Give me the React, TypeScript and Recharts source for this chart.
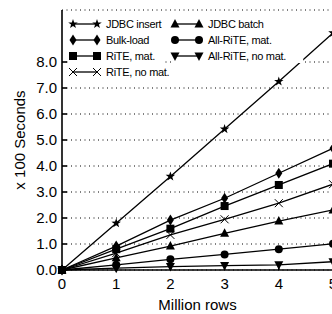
import React from 'react';
import { LineChart, Line, XAxis, YAxis, CartesianGrid, Legend } from 'recharts';

const rows = [0, 1, 2, 3, 4, 5];
const jdbcInsert = [0, 1.8, 3.6, 5.42, 7.25, 9.12];
const bulkLoad = [0, 0.92, 1.92, 2.76, 3.72, 4.68];
const riteMat = [0, 0.8, 1.59, 2.46, 3.27, 4.09];
const riteNoMat = [0, 0.65, 1.35, 1.95, 2.57, 3.3];
const jdbcBatch = [0, 0.47, 0.92, 1.41, 1.88, 2.31];
const allRiteMat = [0, 0.2, 0.41, 0.6, 0.8, 1.01];
const allRiteNoMat = [0, 0.07, 0.13, 0.17, 0.2, 0.32];

const xTicks = [0, 1, 2, 3, 4, 5];
const yTicks = [0, 1, 2, 3, 4, 5, 6, 7, 8];

type Shape = 'star' | 'diamond' | 'square' | 'cross' | 'triUp' | 'circle' | 'triDown';

const series: { key: string; name: string; values: number[]; shape: Shape }[] = [
  { key: 'jdbcInsert', name: 'JDBC insert', values: jdbcInsert, shape: 'star' },
  { key: 'bulkLoad', name: 'Bulk-load', values: bulkLoad, shape: 'diamond' },
  { key: 'riteMat', name: 'RiTE, mat.', values: riteMat, shape: 'square' },
  { key: 'riteNoMat', name: 'RiTE, no mat.', values: riteNoMat, shape: 'cross' },
  { key: 'jdbcBatch', name: 'JDBC batch', values: jdbcBatch, shape: 'triUp' },
  { key: 'allRiteMat', name: 'All-RiTE, mat.', values: allRiteMat, shape: 'circle' },
  { key: 'allRiteNoMat', name: 'All-RiTE, no mat.', values: allRiteNoMat, shape: 'triDown' },
];

const data = rows.map((r, i) => {
  const o: Record<string, number> = { x: r };
  series.forEach((s) => {
    o[s.key] = s.values[i];
  });
  return o;
});

function marker(shape: Shape, cx: number, cy: number, k?: string | number) {
  switch (shape) {
    case 'star': {
      const pts: string[] = [];
      for (let i = 0; i < 10; i++) {
        const r = i % 2 === 0 ? 5 : 2;
        const a = -Math.PI / 2 + (i * Math.PI) / 5;
        pts.push(`${cx + r * Math.cos(a)},${cy + r * Math.sin(a)}`);
      }
      return <polygon key={k} points={pts.join(' ')} fill="#000" />;
    }
    case 'diamond':
      return <polygon key={k} points={`${cx},${cy - 5.5} ${cx + 3.5},${cy} ${cx},${cy + 5.5} ${cx - 3.5},${cy}`} fill="#000" />;
    case 'square':
      return <rect key={k} x={cx - 4} y={cy - 4} width={8} height={8} fill="#000" />;
    case 'cross':
      return (
        <g key={k} stroke="#000" strokeWidth={1}>
          <line x1={cx - 4} y1={cy - 4} x2={cx + 4} y2={cy + 4} />
          <line x1={cx - 4} y1={cy + 4} x2={cx + 4} y2={cy - 4} />
        </g>
      );
    case 'triUp':
      return <polygon key={k} points={`${cx},${cy - 5} ${cx + 4.5},${cy + 3.5} ${cx - 4.5},${cy + 3.5}`} fill="#000" />;
    case 'circle':
      return <circle key={k} cx={cx} cy={cy} r={4} fill="#000" />;
    case 'triDown':
      return <polygon key={k} points={`${cx},${cy + 5} ${cx + 4.5},${cy - 3.5} ${cx - 4.5},${cy - 3.5}`} fill="#000" />;
  }
  return null;
}

const makeDot = (shape: Shape) => (props: any) => {
  const { cx, cy, index } = props;
  if (cx == null || cy == null) return <g key={index} />;
  return marker(shape, cx, cy, index);
};

const legendFont = "'Liberation Sans', Arial, Helvetica, sans-serif";

const renderLegend = () => {
  const colX = [11, 113];
  const rowY = [14, 30, 46, 62];
  return (
    <svg width={270} height={76} style={{ display: 'block' }}>
      {series.map((s, i) => {
        const col = i < 4 ? 0 : 1;
        const row = i < 4 ? i : i - 4;
        const x0 = colX[col];
        const y = rowY[row];
        const w = 24 + 9 + s.name.length * 5.6 + 4;
        return (
          <g key={s.key}>
            <rect x={x0 - 4} y={y - 7} width={w} height={14} fill="#fff" />
            <line x1={x0} y1={y} x2={x0 + 24} y2={y} stroke="#000" strokeWidth={1.3} />
            {marker(s.shape, x0, y)}
            {marker(s.shape, x0 + 24, y)}
            <text x={x0 + 33} y={y + 4} fontSize={11} fontFamily={legendFont} letterSpacing={-0.3} fill="#000">
              {s.name}
            </text>
          </g>
        );
      })}
    </svg>
  );
};

const font = "'Liberation Sans', Arial, Helvetica, sans-serif";

export default function App() {
  return (
    <div style={{ position: 'fixed', left: 0, top: 0, width: 332, height: 314, overflow: 'hidden', background: '#fff' }}>
      <LineChart
        width={345}
        height={314}
        data={data}
        margin={{ top: 10, right: 12, left: 0, bottom: 0 }}
        style={{ fontFamily: font }}
      >
        <CartesianGrid horizontal vertical={false} stroke="#000" strokeDasharray="1 3.5" strokeWidth={1} />
        <XAxis
          dataKey="x"
          type="number"
          domain={[0, 5]}
          ticks={xTicks}
          interval={0}
          height={44}
          tickSize={-5}
          tickMargin={13}
          stroke="#000"
          strokeWidth={1.6}
          tick={{ fill: '#000', fontSize: 15 }}
          label={{ value: 'Million rows', position: 'insideBottom', offset: 4, fill: '#000', fontSize: 15 }}
        />
        <XAxis
          xAxisId="top"
          orientation="top"
          dataKey="x"
          type="number"
          domain={[0, 5]}
          ticks={xTicks}
          interval={0}
          height={0}
          tickSize={-5}
          tickFormatter={() => ''}
          stroke="#000"
          strokeWidth={1}
        />
        <YAxis
          type="number"
          domain={[0, 10]}
          ticks={yTicks}
          interval={0}
          width={62}
          tickSize={-5}
          tickMargin={10}
          stroke="#000"
          strokeWidth={1.6}
          tickFormatter={(v: number) => v.toFixed(1)}
          tick={{ fill: '#000', fontSize: 15 }}
          label={{ value: 'x 100 Seconds', angle: -90, position: 'insideLeft', offset: 20, fill: '#000', fontSize: 15, style: { textAnchor: 'middle' } }}
        />
        <YAxis
          yAxisId="right"
          orientation="right"
          type="number"
          domain={[0, 10]}
          ticks={yTicks}
          interval={0}
          width={0}
          tickSize={-5}
          tickFormatter={() => ''}
          stroke="#000"
          strokeWidth={1}
        />
        {series.map((s) => (
          <Line
            key={s.key}
            dataKey={s.key}
            name={s.name}
            stroke="#000"
            strokeWidth={1.3}
            dot={makeDot(s.shape)}
            activeDot={false}
            isAnimationActive={false}
          />
        ))}
        <Legend
          layout="vertical"
          align="center"
          verticalAlign="middle"
          content={renderLegend}
          wrapperStyle={{ position: 'absolute', left: 62, top: 10, width: 270, height: 76 }}
        />
      </LineChart>
    </div>
  );
}
